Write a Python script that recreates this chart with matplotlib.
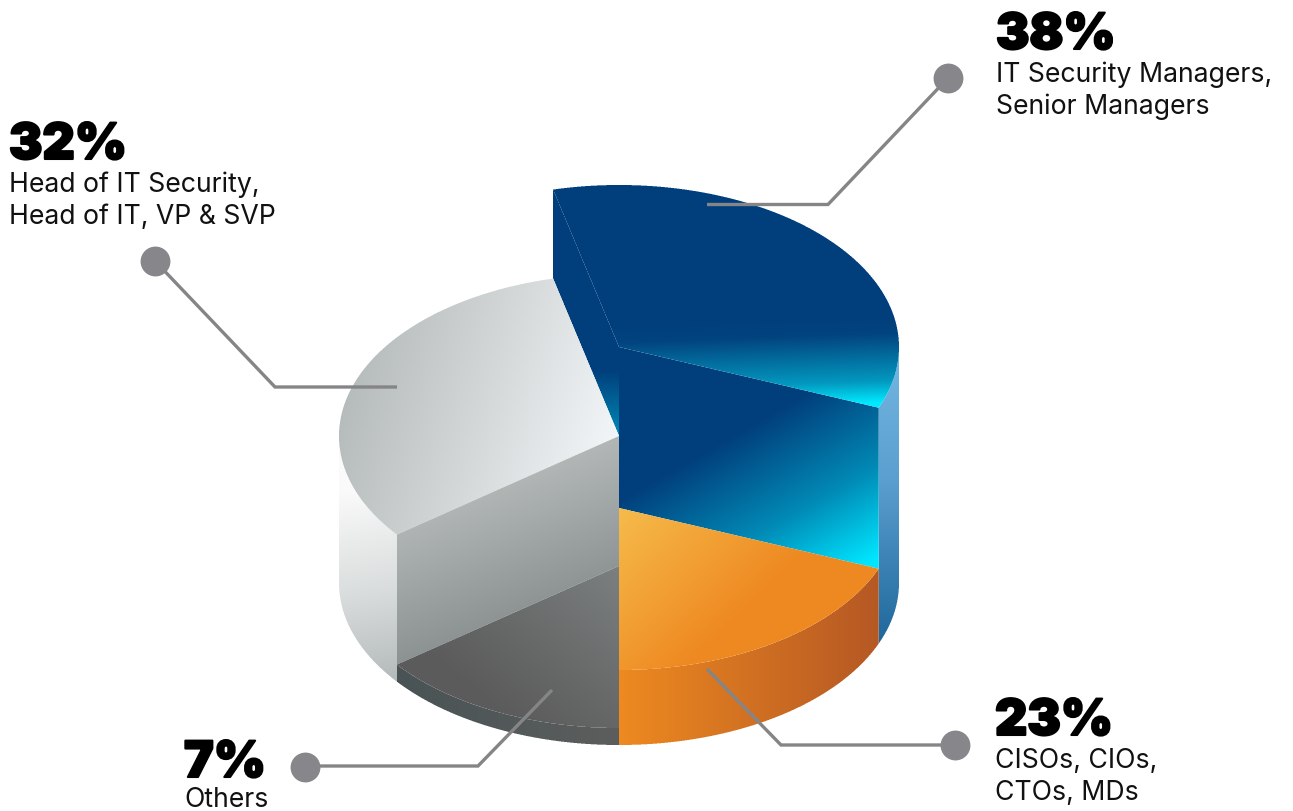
import numpy as np
import matplotlib
matplotlib.use("Agg")
import matplotlib.pyplot as plt
from matplotlib.path import Path
from matplotlib.colors import to_rgb
import matplotlib.patheffects as pe

# data
shares = [38, 32, 7, 23]
groups = ["IT Security Managers,\nSenior Managers",
          "Head of IT Security,\nHead of IT, VP & SVP",
          "Others",
          "CISOs, CIOs,\nCTOs, MDs"]
# the drawn wedges are not to scale with the shares, so read them too
sweeps = [125.6, 113.9, 52.5, 68.0]
heights = [236, 147, 17, 75]

# layout, in pixels of the 1293x812 canvas
CX, BASE, RX, RY = 619, 584, 280, 162
START = -22.0
head_xy = [(996, 50), (9, 160), (184, 778), (995, 736)]
label_dy = [32, 32, 29, 32]
dots = [(948, 79), (155, 262), (305, 768), (955, 746)]
leaders = [[(948, 79), (828, 205.5), (707, 205.5)],
           [(155, 262), (275, 388), (397, 388)],
           [(305, 767), (478, 767), (552, 691)],
           [(955, 746), (781, 746), (707, 670)]]

fig = plt.figure(figsize=(12.93, 8.12), dpi=100)
ax = fig.add_axes([0, 0, 1, 1])
ax.set_xlim(0, 1293)
ax.set_ylim(812, 0)
ax.set_autoscale_on(False)
ax.axis("off")


def arc(cy, a0, a1, n=90):
    t = np.radians(np.linspace(a0, a1, n))
    return np.column_stack([CX + RX * np.cos(t), cy - RY * np.sin(t)])


def grad(poly, p0, p1, stops):
    # linear gradient inside a polygon, edge coverage from 3x sampling
    poly = np.asarray(poly)
    xa, ya = np.floor(poly.min(axis=0)).astype(int) - 1
    xb, yb = np.ceil(poly.max(axis=0)).astype(int) + 1
    w, h = xb - xa, yb - ya
    sx = xa + (np.arange(w * 3) + 0.5) / 3
    sy = ya + (np.arange(h * 3) + 0.5) / 3
    gx, gy = np.meshgrid(sx, sy)
    inside = Path(poly).contains_points(np.column_stack([gx.ravel(), gy.ravel()]))
    cover = inside.reshape(h * 3, w * 3).reshape(h, 3, w, 3).mean(axis=(1, 3))
    px, py = np.meshgrid(xa + np.arange(w) + 0.5, ya + np.arange(h) + 0.5)
    d = np.array(p1, float) - np.array(p0, float)
    t = ((px - p0[0]) * d[0] + (py - p0[1]) * d[1]) / (d @ d)
    pos = [s[0] for s in stops]
    cols = np.array([to_rgb(s[1]) for s in stops])
    img = np.dstack([np.interp(t, pos, cols[:, i]) for i in range(3)] + [cover])
    ax.imshow(img, extent=(xa, xb, yb, ya), origin="upper", aspect="auto",
              interpolation="nearest", zorder=2)


edges = START + np.concatenate([[0], np.cumsum(sweeps)])
tops = [BASE - h for h in heights]
blue, gray, dark, orange = 0, 1, 2, 3

# blue slice: outer wall, inner left face, front face, top
grad(np.vstack([arc(tops[blue], 0, edges[0]), arc(BASE, edges[0], 0)]),
     (890, 350), (890, 640),
     [(0, "#75b7e3"), (0.45, "#5a9fcf"), (1, "#20689c")])
edge_top = arc(tops[blue], edges[1], edges[1], 1)[0]
edge_mid = arc(tops[gray], edges[1], edges[1], 1)[0]
grad([edge_top, (CX, tops[blue]), (CX, tops[gray]), edge_mid],
     (590, 340), (590, 445),
     [(0, "#013f7c"), (0.3, "#013f7c"), (1, "#0093bd")])
rim_top = arc(tops[blue], edges[0], edges[0], 1)[0]
rim_low = arc(tops[orange], edges[0], edges[0], 1)[0]
grad([(CX, tops[blue]), rim_top, rim_low, (CX, tops[orange])],
     (705, 425), (805, 600),
     [(0, "#013f7c"), (0.12, "#013f7c"), (0.6, "#0189b5"), (1, "#00e6ff")])
grad(np.vstack([[(CX, tops[blue])], arc(tops[blue], edges[0], edges[1], 200)]),
     (750, 322), (753, 408),
     [(0, "#013f7c"), (0.2, "#02447f"), (0.75, "#0398bf"), (1, "#00eaff")])

# gray slice: wall, top, front face
grad(np.vstack([arc(tops[gray], 180, edges[2]), arc(BASE, edges[2], 180)]),
     (362, 490), (400, 690),
     [(0, "#f9faf9"), (0.5, "#dadddd"), (1, "#b0b6b6")])
grad(np.vstack([[(CX, tops[gray])], arc(tops[gray], edges[1], edges[2], 200)]),
     (345, 400), (615, 480),
     [(0, "#b6bbbb"), (0.5, "#d5d9da"), (1, "#f5f8fa")])
edge_a = arc(tops[gray], edges[2], edges[2], 1)[0]
edge_b = arc(tops[dark], edges[2], edges[2], 1)[0]
grad([(CX, tops[gray]), edge_a, edge_b, (CX, tops[dark])],
     (490, 470), (560, 650),
     [(0, "#b7bcbb"), (1, "#7f8686")])

# dark slice: rim then top
grad(np.vstack([arc(tops[dark], edges[2], 270), arc(BASE, 270, edges[2])]),
     (397, 700), (619, 700),
     [(0, "#495355"), (1, "#5c5e5d")])
grad(np.vstack([[(CX, tops[dark])], arc(tops[dark], edges[2], 270)]),
     (470, 690), (590, 540),
     [(0, "#5a5b5a"), (1, "#7c8080")])

# orange slice: rim then top
grad(np.vstack([arc(tops[orange], 270, edges[0] + 360), arc(BASE, edges[0] + 360, 270)]),
     (CX, 650), (879, 650),
     [(0, "#ee8a20"), (1, "#b55824")])
grad(np.vstack([[(CX, tops[orange])], arc(tops[orange], 270, edges[0] + 360)]),
     (625, 510), (735, 625),
     [(0, "#f6ba4a"), (1, "#ee8820")])

for line, dot in zip(leaders, dots):
    xs, ys = zip(*line)
    ax.plot(xs, ys, color="#858587", lw=2.4, solid_joinstyle="miter",
            solid_capstyle="butt", zorder=3)
    ax.plot(*dot, "o", ms=21.5, color="#87878b", mew=0, zorder=4)

for (x, y), dy, share, group in zip(head_xy, label_dy, shares, groups):
    ax.text(x, y, f"{share}%", fontsize=36, family="Inter", fontweight="black",
            color="black", va="baseline", ha="left", zorder=5,
            path_effects=[pe.withStroke(linewidth=1.5, foreground="black")])
    for i, row in enumerate(group.split("\n")):
        ax.text(x, y + dy + 32 * i, row, fontsize=19.2, family="Inter",
                color="#111111", va="baseline", ha="left", zorder=5)

fig.savefig("out.png", dpi=100)
